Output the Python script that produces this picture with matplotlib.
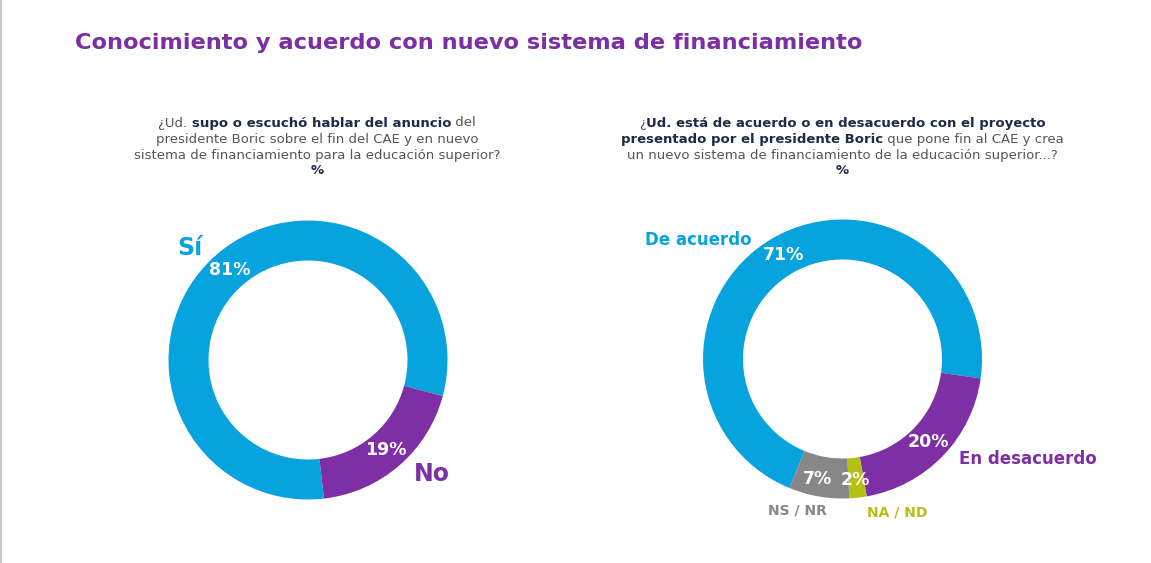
import matplotlib.pyplot as plt

plt.rcParams.update({"font.family": ["DejaVu Sans"]})

W, H = 1151, 563
BLUE, PURPLE, GRAY, OLIVE = "#06a3de", "#7e2fa6", "#878787", "#b5c015"
NAVY, TXT = "#1d2a48", "#555555"

# left donut: conocimiento
know_labels = ["Sí", "No"]
know_vals = [81, 19]
# right donut: acuerdo
agree_labels = ["De acuerdo", "En desacuerdo", "NA / ND", "NS / NR"]
agree_vals = [71, 20, 2, 7]

title = "Conocimiento y acuerdo con nuevo sistema de financiamiento"
q_left = [
    [("¿Ud. ", "normal"), ("supo o escuchó hablar del anuncio", "bold"), (" del", "normal")],
    [("presidente Boric sobre el fin del CAE y en nuevo", "normal")],
    [("sistema de financiamiento para la educación superior?", "normal")],
    [("%", "bold")],
]
q_right = [
    [("¿", "normal"), ("Ud. está de acuerdo o en desacuerdo con el proyecto", "bold")],
    [("presentado por el presidente Boric", "bold"), (" que pone fin al CAE y crea", "normal")],
    [("un nuevo sistema de financiamiento de la educación superior...?", "normal")],
    [("%", "bold")],
]

fig = plt.figure(figsize=(W / 100, H / 100), dpi=100)
ax = fig.add_axes([0, 0, 1, 1])
ax.set_xlim(0, W)
ax.set_ylim(0, H)
ax.axis("off")


def py(y):
    # pixel row from top -> data y
    return H - y


def rich_line(x, y, parts, size):
    rend = fig.canvas.get_renderer()
    texts = []
    for s, w in parts:
        color = NAVY if w == "bold" else TXT
        t = ax.text(0, py(y), s, fontsize=size, fontweight=w, color=color,
                    ha="left", va="center")
        texts.append(t)
    widths = [t.get_window_extent(rend).width for t in texts]
    cur = x - sum(widths) / 2
    for t, w in zip(texts, widths):
        t.set_x(cur)
        cur += w


def donut(center, vals, colors, start):
    wedges, _, pct = ax.pie(vals, colors=colors, radius=139.5, center=center,
                            startangle=start, counterclock=False,
                            autopct="%d%%", pctdistance=0.855,
                            wedgeprops=dict(width=40, linewidth=0),
                            textprops=dict(color="white", fontsize=12.5,
                                           fontweight="bold"))
    return pct


ax.plot([1, 1], [0, H], color="#c8c8c8", lw=1.5)
ax.text(75, py(43), title, fontsize=16.2, fontweight="bold", color="#7b2fa3",
        ha="left", va="center")

for i, line in enumerate(q_left):
    rich_line(317, [123, 140, 156, 171][i], line, 9.5)
for i, line in enumerate(q_right):
    rich_line(842, [123, 140, 156, 171][i], line, 9.5)

donut((308, py(360)), know_vals, [BLUE, PURPLE], 276.6)
pct = donut((842.5, py(359)), agree_vals, [BLUE, PURPLE, OLIVE, GRAY], 247.6)
pct[2].set_position((855, py(480)))
pct[3].set_position((818, py(479)))

ax.text(190, py(248), know_labels[0], fontsize=17, fontweight="bold", color=BLUE,
        ha="center", va="center")
ax.text(432, py(474), know_labels[1], fontsize=17, fontweight="bold", color=PURPLE,
        ha="center", va="center")
ax.text(698, py(240), agree_labels[0], fontsize=12, fontweight="bold", color=BLUE,
        ha="center", va="center")
ax.text(1028, py(459), agree_labels[1], fontsize=12, fontweight="bold", color=PURPLE,
        ha="center", va="center")
ax.text(897, py(513), agree_labels[2], fontsize=10, fontweight="bold", color=OLIVE,
        ha="center", va="center")
ax.text(797, py(510), agree_labels[3], fontsize=10, fontweight="bold", color=GRAY,
        ha="center", va="center")

ax.set_xlim(0, W)
ax.set_ylim(0, H)
ax.set_aspect("auto")
fig.savefig("out.png", dpi=100)
